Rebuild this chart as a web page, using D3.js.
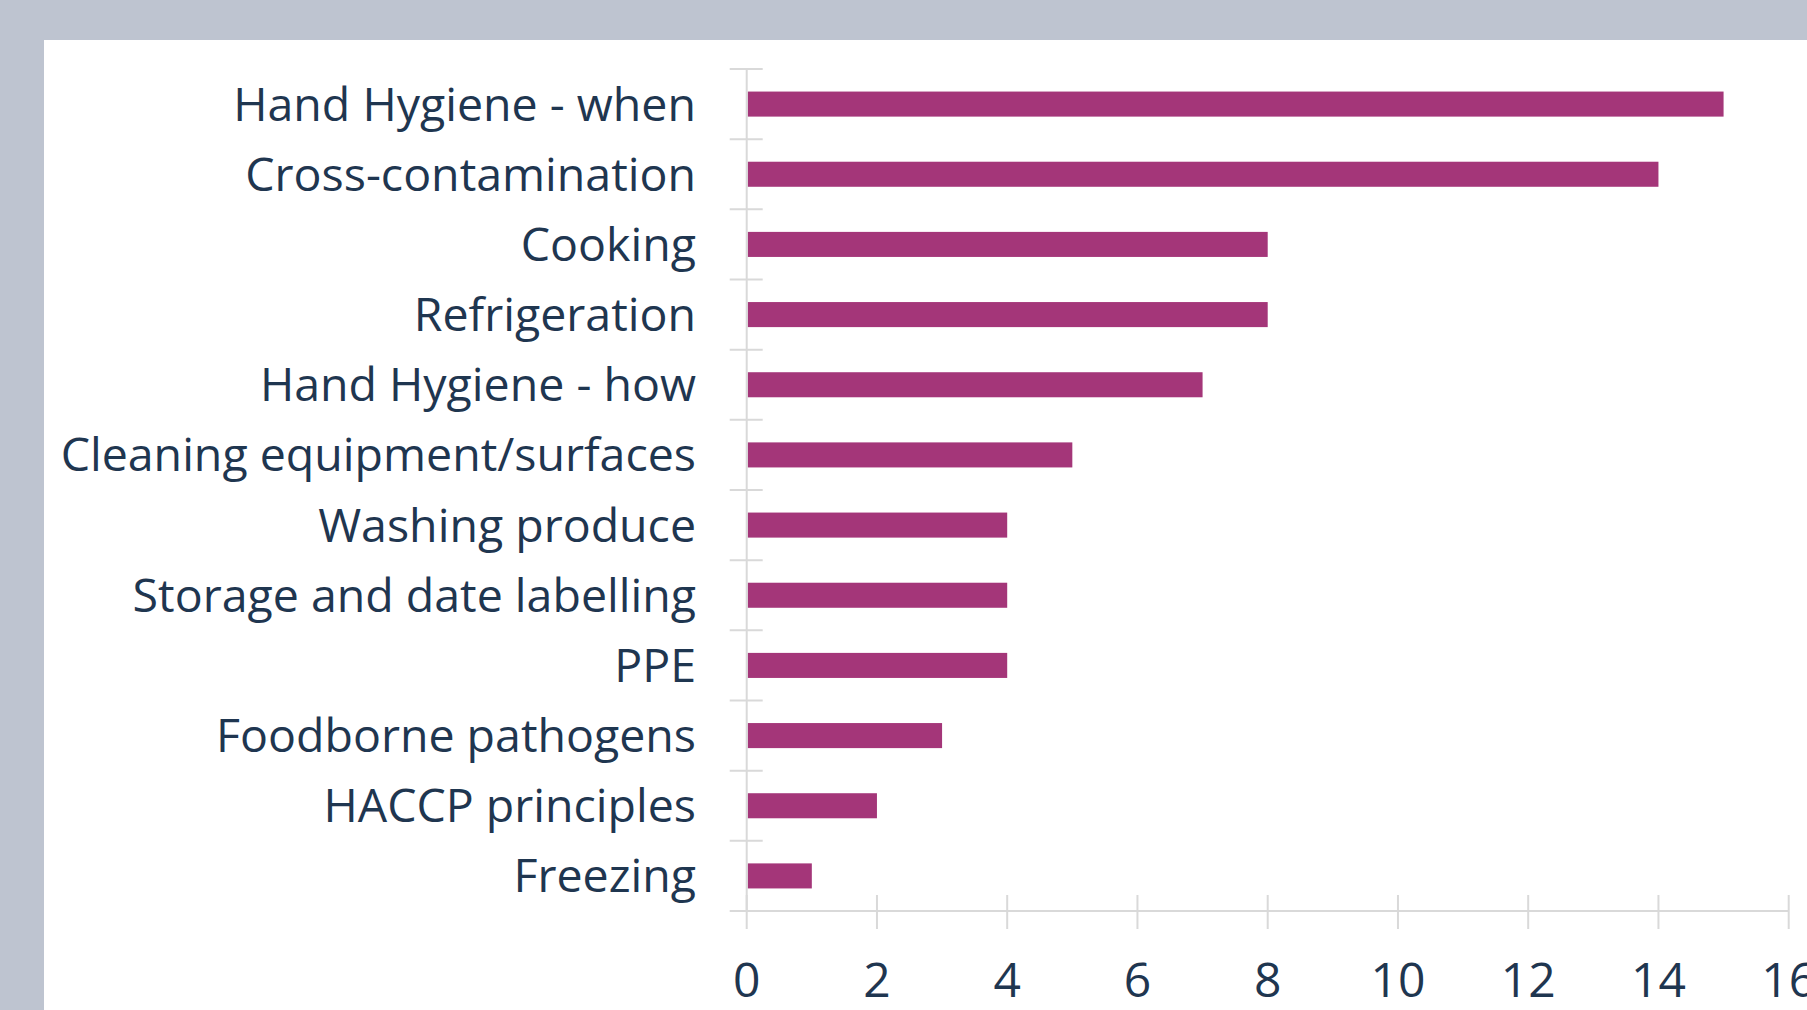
<!DOCTYPE html>
<html>
<head>
<meta charset="utf-8">
<script src="https://cdn.jsdelivr.net/npm/d3@7"></script>
<style>
  html, body { margin: 0; padding: 0; background: #bec4d0; }
  svg { display: block; }
  .label { font-family: "Open Sans", sans-serif; fill: #1f3650; }
</style>
</head>
<body>
<svg width="1807" height="1010"></svg>
<script>
var categories = ["Hand Hygiene - when", "Cross-contamination", "Cooking", "Refrigeration",
    "Hand Hygiene - how", "Cleaning equipment/surfaces", "Washing produce",
    "Storage and date labelling", "PPE", "Foodborne pathogens", "HACCP principles", "Freezing"];
var counts = [15, 14, 8, 8, 7, 5, 4, 4, 4, 3, 2, 1];
var xTicks = [0, 2, 4, 6, 8, 10, 12, 14, 16];

var svg = d3.select("svg"),
    width = +svg.attr("width"),
    height = +svg.attr("height");

var axisColor = "#d9d9d9",
    barColor = "#a43679";

// chart panel
svg.append("rect")
    .attr("x", 0).attr("y", 0)
    .attr("width", width).attr("height", height)
    .attr("fill", "#bec4d0");
svg.append("rect")
    .attr("x", 44).attr("y", 40)
    .attr("width", width - 44).attr("height", height - 40)
    .attr("fill", "#ffffff");

var x = d3.scaleLinear().domain([0, 16]).range([746.7, 1788.7]);
var y = d3.scaleBand().domain(categories).range([69, 911])
    .paddingInner(0.643).paddingOuter(0.3215);

var step = y.step();

// bars
svg.append("g").selectAll("rect")
    .data(counts)
    .enter().append("rect")
    .attr("x", x(0) + 1)
    .attr("y", function(d, i) { return y(categories[i]); })
    .attr("width", function(d) { return x(d) - x(0) - 1; })
    .attr("height", y.bandwidth())
    .attr("fill", barColor);

// y axis line and crossing ticks at category boundaries
var yAxis = svg.append("g");
yAxis.append("line")
    .attr("x1", x(0)).attr("x2", x(0))
    .attr("y1", 69).attr("y2", 911)
    .attr("stroke", axisColor).attr("stroke-width", 2);
yAxis.selectAll("line.tick")
    .data(d3.range(categories.length))
    .enter().append("line")
    .attr("class", "tick")
    .attr("x1", x(0) - 17).attr("x2", x(0) + 16)
    .attr("y1", function(i) { return 69 + i * step; })
    .attr("y2", function(i) { return 69 + i * step; })
    .attr("stroke", axisColor).attr("stroke-width", 2);

// category labels
svg.append("g").selectAll("text")
    .data(categories)
    .enter().append("text")
    .attr("class", "label")
    .attr("x", 696)
    .attr("y", function(d) { return y(d) + y.bandwidth() / 2 + 16.5; })
    .attr("text-anchor", "end")
    .style("font-size", "46.5px")
    .text(function(d) { return d; });

// x axis
var xAxis = svg.append("g");
xAxis.append("line")
    .attr("x1", x(0) - 17).attr("x2", x(16))
    .attr("y1", 911).attr("y2", 911)
    .attr("stroke", axisColor).attr("stroke-width", 2);
xAxis.selectAll("line.tick")
    .data(xTicks)
    .enter().append("line")
    .attr("class", "tick")
    .attr("x1", function(d) { return x(d); })
    .attr("x2", function(d) { return x(d); })
    .attr("y1", 895).attr("y2", 929)
    .attr("stroke", axisColor).attr("stroke-width", 2);
xAxis.selectAll("text")
    .data(xTicks)
    .enter().append("text")
    .attr("class", "label")
    .attr("x", function(d) { return x(d); })
    .attr("y", 997)
    .attr("text-anchor", "middle")
    .style("font-size", "48px")
    .text(function(d) { return d; });
</script>
</body>
</html>
